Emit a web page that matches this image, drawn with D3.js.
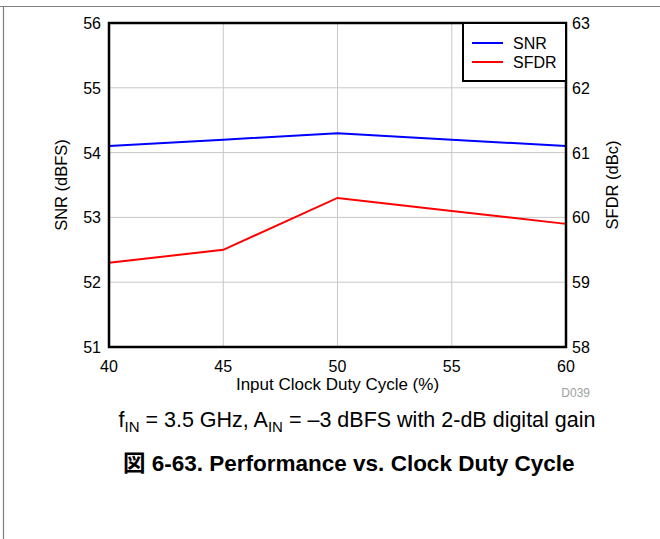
<!DOCTYPE html>
<html><head><meta charset="utf-8">
<script src="https://cdn.jsdelivr.net/npm/d3@7"></script>
<style>body{margin:0;background:#fff;font-family:Arial,"Liberation Sans",sans-serif;}</style>
</head><body><svg id="c" width="660" height="539"></svg>
<script>
const dutyCycle = [40, 45, 50, 55, 60];
const snr = [54.1, 54.2, 54.3, 54.2, 54.1];
const sfdr = [59.3, 59.5, 60.3, 60.1, 59.9];
const xTicks = [40, 45, 50, 55, 60];
const yLeftTicks = [51, 52, 53, 54, 55, 56];
const yRightTicks = [58, 59, 60, 61, 62, 63];
const seriesNames = ["SNR", "SFDR"];
const seriesColors = ["#0000ff", "#ff0000"];

const svg = d3.select("#c");
const L = 109, R = 566, T = 23, B = 347;
const x = d3.scaleLinear().domain([40, 60]).range([L, R]);
const yL = d3.scaleLinear().domain([51, 56]).range([B, T]);
const yR = d3.scaleLinear().domain([58, 63]).range([B, T]);

// page frame
svg.append("line").attr("x1",0).attr("x2",660).attr("y1",6.5).attr("y2",6.5).attr("stroke","#808080").attr("stroke-width",1.2);
svg.append("line").attr("x1",3.5).attr("x2",3.5).attr("y1",6).attr("y2",539).attr("stroke","#808080").attr("stroke-width",1.2);

// grid
svg.append("g").selectAll("line").data(yLeftTicks.slice(1,-1)).join("line")
  .attr("x1",L).attr("x2",R).attr("y1",d=>yL(d)).attr("y2",d=>yL(d)).attr("stroke","#c8c8c8").attr("stroke-width",1);
svg.append("g").selectAll("line").data(xTicks.slice(1,-1)).join("line")
  .attr("y1",T).attr("y2",B).attr("x1",d=>x(d)).attr("x2",d=>x(d)).attr("stroke","#c8c8c8").attr("stroke-width",1);

// lines
const lineL = d3.line().x((d,i)=>x(dutyCycle[i])).y(d=>yL(d));
const lineR = d3.line().x((d,i)=>x(dutyCycle[i])).y(d=>yR(d));
svg.append("path").attr("d",lineL(snr)).attr("fill","none").attr("stroke",seriesColors[0]).attr("stroke-width",2);
svg.append("path").attr("d",lineR(sfdr)).attr("fill","none").attr("stroke",seriesColors[1]).attr("stroke-width",2);

// frame
svg.append("rect").attr("x",L).attr("y",T).attr("width",R-L).attr("height",B-T).attr("fill","none").attr("stroke","#000").attr("stroke-width",2.5);

// axes labels
const fs = 16;
svg.append("g").selectAll("text").data(yLeftTicks).join("text")
  .attr("x",L-8).attr("y",d=>yL(d)+6).attr("text-anchor","end").attr("font-size",fs).text(d=>d);
svg.append("g").selectAll("text").data(yRightTicks).join("text")
  .attr("x",R+6).attr("y",d=>yR(d)+6).attr("text-anchor","start").attr("font-size",fs).text(d=>d);
svg.append("g").selectAll("text").data(xTicks).join("text")
  .attr("x",d=>x(d)).attr("y",B+25).attr("text-anchor","middle").attr("font-size",fs).text(d=>d);

svg.append("text").attr("x",(L+R)/2).attr("y",B+43).attr("text-anchor","middle").attr("font-size",17).text("Input Clock Duty Cycle (%)");
svg.append("text").attr("transform",`translate(67,${(T+B)/2}) rotate(-90)`).attr("text-anchor","middle").attr("font-size",16.5).text("SNR (dBFS)");
svg.append("text").attr("transform",`translate(618,${(T+B)/2}) rotate(-90)`).attr("text-anchor","middle").attr("font-size",16.5).text("SFDR (dBc)");
svg.append("text").attr("x",590).attr("y",397).attr("text-anchor","end").attr("font-size",12).attr("fill","#a0a0a0").text("D039");

// legend
const lg = svg.append("g");
lg.append("rect").attr("x",463).attr("y",T).attr("width",R-463).attr("height",58).attr("fill","#fff").attr("stroke","#000").attr("stroke-width",2);
seriesNames.forEach((n,i)=>{
  const yy = 43 + i*19;
  lg.append("line").attr("x1",472).attr("x2",503).attr("y1",yy).attr("y2",yy).attr("stroke",seriesColors[i]).attr("stroke-width",2);
  lg.append("text").attr("x",513).attr("y",yy+6).attr("font-size",fs).text(n);
});

// caption
const cap = svg.append("text").attr("x",357).attr("y",427).attr("text-anchor","middle").attr("font-size",21.5);
cap.append("tspan").text("f");
cap.append("tspan").attr("font-size",15).attr("dy",5).text("IN");
cap.append("tspan").attr("dy",-5).text(" = 3.5 GHz, A");
cap.append("tspan").attr("font-size",15).attr("dy",5).text("IN");
cap.append("tspan").attr("dy",-5).text(" = –3 dBFS with 2-dB digital gain");

svg.append("text").attr("x",123).attr("y",471).attr("text-anchor","start").attr("font-size",22.5).attr("font-weight","bold")
  .style("font-family","Arial,'Liberation Sans','Noto Sans CJK JP',sans-serif").text("図 6-63. Performance vs. Clock Duty Cycle");
</script></body></html>
